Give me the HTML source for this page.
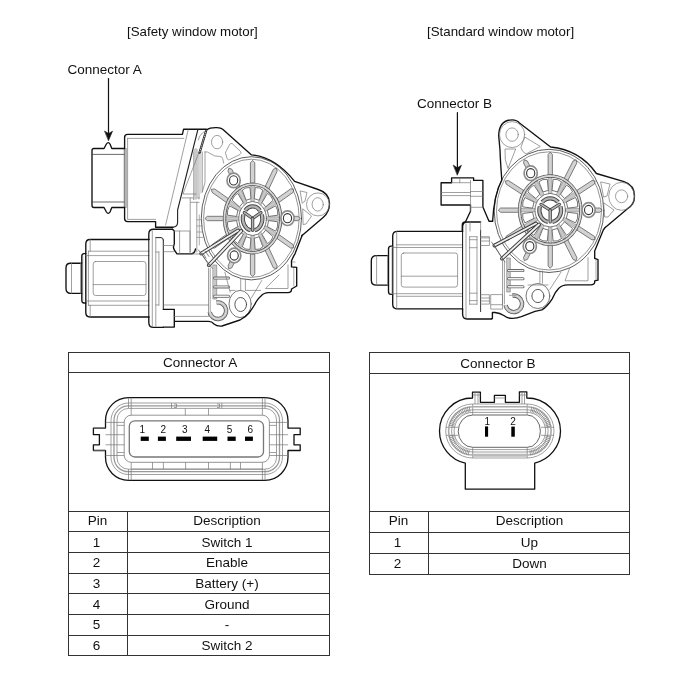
<!DOCTYPE html>
<html><head><meta charset="utf-8">
<style>
html,body{margin:0;padding:0;background:#fff;}
body{width:700px;height:682px;position:relative;overflow:hidden;filter:grayscale(1);font-family:"Liberation Sans",sans-serif;color:#111;}
.t{position:absolute;font-size:13.3px;line-height:1;white-space:nowrap;}
.c{position:absolute;font-size:13.5px;line-height:1;white-space:nowrap;text-align:center;}
.h{position:absolute;background:#333;height:1px;}
.v{position:absolute;background:#333;width:1px;}
svg{position:absolute;left:0;top:0;}
</style></head><body>
<div class="t" style="left:127px;top:25.4px">[Safety window motor]</div>
<div class="t" style="left:427px;top:25.4px">[Standard window motor]</div>
<div class="t" style="left:67.5px;top:62.7px;font-size:13.5px">Connector A</div>
<div class="t" style="left:417px;top:97.3px;font-size:13.5px">Connector B</div>

<!-- Table A -->
<div class="h" style="left:68px;top:352px;width:262px"></div>
<div class="h" style="left:68px;top:372px;width:262px"></div>
<div class="h" style="left:68px;top:511px;width:262px"></div>
<div class="h" style="left:68px;top:531px;width:262px"></div>
<div class="h" style="left:68px;top:552px;width:262px"></div>
<div class="h" style="left:68px;top:573px;width:262px"></div>
<div class="h" style="left:68px;top:593px;width:262px"></div>
<div class="h" style="left:68px;top:614px;width:262px"></div>
<div class="h" style="left:68px;top:635px;width:262px"></div>
<div class="h" style="left:68px;top:655px;width:262px"></div>
<div class="v" style="left:68px;top:352px;height:304px"></div>
<div class="v" style="left:329px;top:352px;height:304px"></div>
<div class="v" style="left:127px;top:511px;height:145px"></div>

<div class="c" style="left:69.2px;width:262px;top:356.4px">Connector A</div>
<div class="c" style="left:68px;width:59px;top:514.2px">Pin</div>
<div class="c" style="left:127px;width:200px;top:514.2px">Description</div>
<div class="c" style="left:67px;width:59px;top:535.6px">1</div>
<div class="c" style="left:127px;width:200px;top:535.6px">Switch 1</div>
<div class="c" style="left:67px;width:59px;top:556.4px">2</div>
<div class="c" style="left:127px;width:200px;top:556.4px">Enable</div>
<div class="c" style="left:67px;width:59px;top:576.9px">3</div>
<div class="c" style="left:127px;width:200px;top:576.9px">Battery (+)</div>
<div class="c" style="left:67px;width:59px;top:597.8px">4</div>
<div class="c" style="left:127px;width:200px;top:597.8px">Ground</div>
<div class="c" style="left:67px;width:59px;top:618.3px">5</div>
<div class="c" style="left:127px;width:200px;top:618.3px">-</div>
<div class="c" style="left:67px;width:59px;top:639.1px">6</div>
<div class="c" style="left:127px;width:200px;top:639.1px">Switch 2</div>

<!-- Table B -->
<div class="h" style="left:369px;top:352px;width:261px"></div>
<div class="h" style="left:369px;top:373px;width:261px"></div>
<div class="h" style="left:369px;top:511px;width:261px"></div>
<div class="h" style="left:369px;top:532px;width:261px"></div>
<div class="h" style="left:369px;top:553px;width:261px"></div>
<div class="h" style="left:369px;top:574px;width:261px"></div>
<div class="v" style="left:369px;top:352px;height:223px"></div>
<div class="v" style="left:629px;top:352px;height:223px"></div>
<div class="v" style="left:428px;top:511px;height:64px"></div>

<div class="c" style="left:367.4px;width:261px;top:356.5px">Connector B</div>
<div class="c" style="left:369px;width:59px;top:514.1px">Pin</div>
<div class="c" style="left:429px;width:201px;top:514.1px">Description</div>
<div class="c" style="left:368px;width:59px;top:536px">1</div>
<div class="c" style="left:429px;width:201px;top:536px">Up</div>
<div class="c" style="left:368px;width:59px;top:556.5px">2</div>
<div class="c" style="left:429px;width:201px;top:556.5px">Down</div>

<!--SVG-->
<svg width="700" height="682" viewBox="0 0 700 682" fill="none" stroke-linejoin="round">
<!-- Connector A -->
<g id="connA">
  <path d="M128.5 397.6 H265 A23 23 0 0 1 288 420.6 V428.1 H300.2 V434.7 H294 V444.8 H300.2 V450.5 H288 V457 A23 23 0 0 1 265 480.3 H128.5 A23 23 0 0 1 105.5 457 V450.5 H93.4 V444.8 H99.4 V434.7 H93.4 V428.1 H105.5 V420.6 A23 23 0 0 1 128.5 397.6 Z" stroke="#111" stroke-width="1.3"/>
  <rect x="111" y="403" width="171.5" height="71.5" rx="17.5" stroke="#777" stroke-width="0.7"/>
  <rect x="114" y="405.9" width="165.5" height="65.8" rx="14.5" stroke="#999" stroke-width="1.3"/>
  <rect x="117" y="408.4" width="159.5" height="60.8" rx="11.5" stroke="#777" stroke-width="0.7"/>
  <path d="M124.2 422 A7 7 0 0 1 131.2 415.2 H262.4 A7 7 0 0 1 269.4 422 V455.5 A7 7 0 0 1 262.4 462.3 H131.2 A7 7 0 0 1 124.2 455.5 Z" stroke="#666" stroke-width="0.7"/>
  <rect x="129.3" y="420.8" width="134.2" height="36.2" rx="5.5" stroke="#777" stroke-width="1.3"/>
  <g stroke="#777" stroke-width="0.7">
    <path d="M128.5 397.6 V408.4 M131.2 397.6 V415.2 M265 397.6 V408.4 M262.4 397.6 V415.2"/>
    <path d="M128.5 480.3 V469.2 M131.2 480.3 V462.3 M265 480.3 V469.2 M262.4 480.3 V462.3"/>
    <path d="M185.3 408.4 V415.2 M208.5 408.4 V415.2"/>
    <path d="M131.4 469.1 H262.9 M152.5 462.3 V469.1 M163.4 462.3 V469.1 M185.6 462.3 V469.1 M208.5 462.3 V469.1 M230.4 462.3 V469.1 M240.5 462.3 V469.1"/>
    <path d="M105.5 422.4 H124.2 M117 425.4 H124.2 M105.5 434.7 H124.2 M105.5 444.8 H124.2 M117 452.5 H124.2 M105.5 455.5 H124.2"/>
    <path d="M288 422.4 H269.4 M276.5 425.4 H269.4 M288 434.7 H269.4 M288 444.8 H269.4 M276.5 452.5 H269.4 M288 455.5 H269.4"/>
    <path d="M93.4 428.1 H105.5 M93.4 450.5 H105.5"/>
    <path d="M171.5 403 V408.4 M221.8 403 V408.4"/>
    <path d="M174 404 h2.5 v3.5 h-2.5 M217 404 h2.5 v3.5 h-2.5"/>
  </g>
  <g fill="#000" stroke="none">
    <rect x="140.7" y="436.6" width="8.1" height="4.3"/>
    <rect x="157.9" y="436.6" width="8" height="4.3"/>
    <rect x="176.2" y="436.6" width="14.8" height="4.3"/>
    <rect x="202.7" y="436.6" width="14.5" height="4.3"/>
    <rect x="227.5" y="436.6" width="8.2" height="4.3"/>
    <rect x="245" y="436.6" width="7.9" height="4.3"/>
  </g>
  <g fill="#111" stroke="none" font-family="Liberation Sans" font-size="10">
    <text x="139.4" y="433">1</text>
    <text x="160.6" y="433">2</text>
    <text x="181.9" y="433">3</text>
    <text x="204.5" y="433">4</text>
    <text x="226.8" y="433">5</text>
    <text x="247.6" y="433">6</text>
  </g>
</g>
<!-- Connector B -->
<g id="connB">
  <path d="M465.3 489.2 V463.2 A33 33 0 0 1 439.5 431 A33 33 0 0 1 472.5 398 V392.2 H480.4 V402.3 H494.4 V395.4 H505.4 V402.3 H519.4 V391.8 H526.8 V398 A33.7 33 0 0 1 560.5 431 A33.7 33 0 0 1 534.7 463.1 V489.2 Z" stroke="#111" stroke-width="1.3"/>
  <g stroke="#777" stroke-width="0.7">
    <path d="M472.7 404 H527 A27 27 0 0 1 527 458 H472.7 A27 27 0 0 1 472.7 404 Z"/>
    <path d="M472.7 409.8 H527 A21 21 0 0 1 527 452 H472.7 A21 21 0 0 1 472.7 409.8 Z"/>
    <path d="M472.7 412.4 H527 A18.5 18.5 0 0 1 527 449.6 H472.7 A18.5 18.5 0 0 1 472.7 412.4 Z"/>
    <path d="M472.7 415 H527.4 A13 16.15 0 0 1 527.4 447.3 H472.7 A14.5 16.15 0 0 1 472.7 415 Z" stroke="#555" stroke-width="0.9"/>
    <path d="M472.7 404 V415 M527.2 404 V415 M472.7 447.3 V458 M527.2 447.3 V458"/>
    <path d="M446 427.3 H458 M446 435.3 H458 M541 427.3 H554 M541 435.3 H554"/>
    <path d="M472.5 395 H480.4 M519.4 395 H526.8 M494.4 398 H505.4"/>
    <path d="M475 392.2 V404 M478 392.2 V404 M522 391.8 V404 M524.5 391.8 V404"/>
  </g>
  <path d="M472.7 406.8 H527 A24 24 0 0 1 527 455 H472.7 A24 24 0 0 1 472.7 406.8 Z" stroke="#aaa" stroke-width="1.6"/>
  <path d="M472.7 455.2 H527" stroke="#bbb" stroke-width="3"/>
  <path d="M470.0 412.1 L469.3 406.8 M468.5 412.4 L467.4 407.1 M467.1 412.8 L465.5 407.6 M465.7 413.3 L463.7 408.3 M464.3 413.9 L461.9 409.0 M463.0 414.6 L460.2 410.0 M461.7 415.4 L458.6 411.0 M460.5 416.3 L457.1 412.2 M459.4 417.3 L455.6 413.5 M458.3 418.4 L454.3 414.8 M457.4 419.6 L453.1 416.3 M456.5 420.8 L452.0 417.9 M455.7 422.1 L451.0 419.6 M455.1 423.5 L450.1 421.3 M454.5 424.9 L449.4 423.1 M454.1 426.3 L448.9 425.0 M453.9 435.1 L448.6 436.3 M454.3 436.6 L449.1 438.1 M454.8 438.0 L449.7 440.0 M455.4 439.4 L450.5 441.7 M456.1 440.8 L451.4 443.4 M456.9 442.0 L452.4 445.1 M457.8 443.2 L453.6 446.6 M458.8 444.4 L454.9 448.1 M459.9 445.4 L456.2 449.4 M461.0 446.4 L457.7 450.7 M462.2 447.3 L459.3 451.8 M463.5 448.0 L461.0 452.8 M464.9 448.7 L462.7 453.6 M466.3 449.2 L464.5 454.3 M467.7 449.7 L466.3 454.9 M469.2 450.0 L468.2 455.3 M529.9 450.2 L530.6 455.5 M531.4 449.9 L532.5 455.2 M532.8 449.5 L534.4 454.7 M534.2 449.0 L536.2 454.0 M535.6 448.4 L538.0 453.3 M536.9 447.7 L539.7 452.3 M538.2 446.9 L541.3 451.3 M539.4 446.0 L542.8 450.1 M540.5 445.0 L544.3 448.8 M541.6 443.9 L545.6 447.5 M542.5 442.7 L546.8 446.0 M543.4 441.5 L547.9 444.4 M544.2 440.2 L548.9 442.7 M544.8 438.8 L549.8 441.0 M545.4 437.4 L550.5 439.2 M545.8 436.0 L551.0 437.3 M546.0 427.2 L551.3 426.0 M545.6 425.7 L550.8 424.2 M545.1 424.3 L550.2 422.3 M544.5 422.9 L549.4 420.6 M543.8 421.5 L548.5 418.8 M543.0 420.3 L547.5 417.2 M542.1 419.1 L546.3 415.7 M541.1 417.9 L545.0 414.2 M540.0 416.9 L543.7 412.9 M538.9 415.9 L542.2 411.6 M537.7 415.0 L540.6 410.5 M536.4 414.3 L538.9 409.5 M535.0 413.6 L537.2 408.7 M533.6 413.1 L535.4 408.0 M532.2 412.6 L533.6 407.4 M530.7 412.3 L531.7 407.0" stroke="#777" stroke-width="0.7"/>
  <g fill="#000" stroke="none">
    <rect x="485" y="426.4" width="3.1" height="10.3"/>
    <rect x="511.3" y="426.6" width="3.5" height="10.1"/>
  </g>
  <g fill="#111" stroke="none" font-family="Liberation Sans" font-size="10">
    <text x="484.4" y="425.4">1</text>
    <text x="510.2" y="425.4">2</text>
  </g>
</g>
</svg>

<svg width="700" height="682" viewBox="0 0 700 682" fill="none">
<g id="motorA" fill="none" stroke-linejoin="round" stroke-linecap="round">
<path d="M108.5 78.5 V134" stroke="#111" stroke-width="1.2"/>
<path d="M104.8 131.2 L108.6 133.5 L112.5 131.2 L108.6 140.4 Z" fill="#111" stroke="#111" stroke-width="0.6"/>
<ellipse cx="251.4" cy="218.3" rx="47.8" ry="59.1" stroke="#666" stroke-width="0.7"/>
<ellipse cx="251.4" cy="218.3" rx="50.1" ry="61.6" stroke="#333" stroke-width="0.8"/>
<path d="M254.8 184.6 L254.8 162.8 L252.6 160.4 L250.4 162.8 L250.4 184.6 Z" fill="#d2d2d2" stroke="#555" stroke-width="0.75"/>
<path d="M268.3 190.1 L277.2 171.1 L276.3 168.1 L273.3 169.3 L264.4 188.2 Z" fill="#d2d2d2" stroke="#555" stroke-width="0.75"/>
<path d="M277.7 203.3 L293.1 192.4 L293.8 189.3 L290.6 188.9 L275.2 199.8 Z" fill="#d2d2d2" stroke="#555" stroke-width="0.75"/>
<path d="M280.2 220.7 L297.9 220.7 L300.3 218.5 L297.9 216.3 L280.2 216.3 Z" fill="#d2d2d2" stroke="#555" stroke-width="0.75"/>
<path d="M275.2 237.2 L290.6 248.1 L293.8 247.7 L293.1 244.6 L277.7 233.7 Z" fill="#d2d2d2" stroke="#555" stroke-width="0.75"/>
<path d="M264.4 248.8 L273.3 267.7 L276.3 268.9 L277.2 265.9 L268.3 246.9 Z" fill="#d2d2d2" stroke="#555" stroke-width="0.75"/>
<path d="M250.4 252.4 L250.4 274.2 L252.6 276.6 L254.8 274.2 L254.8 252.4 Z" fill="#d2d2d2" stroke="#555" stroke-width="0.75"/>
<path d="M236.9 246.9 L228.0 265.9 L228.9 268.9 L231.9 267.7 L240.8 248.8 Z" fill="#d2d2d2" stroke="#555" stroke-width="0.75"/>
<path d="M227.5 233.7 L212.1 244.6 L211.4 247.7 L214.6 248.1 L230.0 237.2 Z" fill="#d2d2d2" stroke="#555" stroke-width="0.75"/>
<path d="M225.0 216.3 L207.3 216.3 L204.9 218.5 L207.3 220.7 L225.0 220.7 Z" fill="#d2d2d2" stroke="#555" stroke-width="0.75"/>
<path d="M230.0 199.8 L214.6 188.9 L211.4 189.3 L212.1 192.4 L227.5 203.3 Z" fill="#d2d2d2" stroke="#555" stroke-width="0.75"/>
<path d="M240.8 188.2 L231.9 169.3 L228.9 168.1 L228.0 171.1 L236.9 190.1 Z" fill="#d2d2d2" stroke="#555" stroke-width="0.75"/>
<path d="M254.3 203.7 L254.3 183.4 L250.9 183.4 L250.9 203.7 Z" fill="#c8c8c8" stroke="#8a8a8a" stroke-width="0.6"/>
<path d="M260.2 206.4 L268.4 188.8 L265.3 187.4 L257.1 205.0 Z" fill="#c8c8c8" stroke="#8a8a8a" stroke-width="0.6"/>
<path d="M264.0 212.5 L278.3 202.3 L276.3 199.6 L262.0 209.7 Z" fill="#c8c8c8" stroke="#8a8a8a" stroke-width="0.6"/>
<path d="M264.6 220.2 L281.2 220.2 L281.2 216.8 L264.6 216.8 Z" fill="#c8c8c8" stroke="#8a8a8a" stroke-width="0.6"/>
<path d="M262.0 227.3 L276.3 237.4 L278.3 234.7 L264.0 224.5 Z" fill="#c8c8c8" stroke="#8a8a8a" stroke-width="0.6"/>
<path d="M257.1 232.0 L265.3 249.6 L268.4 248.2 L260.2 230.6 Z" fill="#c8c8c8" stroke="#8a8a8a" stroke-width="0.6"/>
<path d="M250.9 233.3 L250.9 253.6 L254.3 253.6 L254.3 233.3 Z" fill="#c8c8c8" stroke="#8a8a8a" stroke-width="0.6"/>
<path d="M245.0 230.6 L236.8 248.2 L239.9 249.6 L248.1 232.0 Z" fill="#c8c8c8" stroke="#8a8a8a" stroke-width="0.6"/>
<path d="M241.2 224.5 L226.9 234.7 L228.9 237.4 L243.2 227.3 Z" fill="#c8c8c8" stroke="#8a8a8a" stroke-width="0.6"/>
<path d="M240.6 216.8 L224.0 216.8 L224.0 220.2 L240.6 220.2 Z" fill="#c8c8c8" stroke="#8a8a8a" stroke-width="0.6"/>
<path d="M243.2 209.7 L228.9 199.6 L226.9 202.3 L241.2 212.5 Z" fill="#c8c8c8" stroke="#8a8a8a" stroke-width="0.6"/>
<path d="M248.1 205.0 L239.9 187.4 L236.8 188.8 L245.0 206.4 Z" fill="#c8c8c8" stroke="#8a8a8a" stroke-width="0.6"/>
<path d="M254.3 198.3 L255.2 187.6 L259.3 187.9 L262.9 190.1 L259.3 199.9 Z" fill="#fff" stroke="#5a5a5a" stroke-width="0.85" stroke-linejoin="round"/>
<path d="M262.3 202.1 L267.5 193.3 L270.8 196.1 L273.1 200.2 L266.0 206.6 Z" fill="#fff" stroke="#5a5a5a" stroke-width="0.85" stroke-linejoin="round"/>
<path d="M267.7 210.2 L275.7 205.8 L277.5 210.3 L277.8 215.2 L269.0 216.4 Z" fill="#fff" stroke="#5a5a5a" stroke-width="0.85" stroke-linejoin="round"/>
<path d="M269.0 220.6 L277.8 221.8 L277.5 226.7 L275.7 231.2 L267.7 226.8 Z" fill="#fff" stroke="#5a5a5a" stroke-width="0.85" stroke-linejoin="round"/>
<path d="M266.0 230.4 L273.1 236.8 L270.8 240.9 L267.5 243.7 L262.3 234.9 Z" fill="#fff" stroke="#5a5a5a" stroke-width="0.85" stroke-linejoin="round"/>
<path d="M259.3 237.1 L262.9 246.9 L259.3 249.1 L255.2 249.4 L254.3 238.7 Z" fill="#fff" stroke="#5a5a5a" stroke-width="0.85" stroke-linejoin="round"/>
<path d="M250.9 238.7 L250.0 249.4 L245.9 249.1 L242.3 246.9 L245.9 237.1 Z" fill="#fff" stroke="#5a5a5a" stroke-width="0.85" stroke-linejoin="round"/>
<path d="M242.9 234.9 L237.7 243.7 L234.4 240.9 L232.1 236.8 L239.2 230.4 Z" fill="#fff" stroke="#5a5a5a" stroke-width="0.85" stroke-linejoin="round"/>
<path d="M237.5 226.8 L229.5 231.2 L227.7 226.7 L227.4 221.8 L236.2 220.6 Z" fill="#fff" stroke="#5a5a5a" stroke-width="0.85" stroke-linejoin="round"/>
<path d="M236.2 216.4 L227.4 215.2 L227.7 210.3 L229.5 205.8 L237.5 210.2 Z" fill="#fff" stroke="#5a5a5a" stroke-width="0.85" stroke-linejoin="round"/>
<path d="M239.2 206.6 L232.1 200.2 L234.4 196.1 L237.7 193.3 L242.9 202.1 Z" fill="#fff" stroke="#5a5a5a" stroke-width="0.85" stroke-linejoin="round"/>
<path d="M245.9 199.9 L242.3 190.1 L245.9 187.9 L250.0 187.6 L250.9 198.3 Z" fill="#fff" stroke="#5a5a5a" stroke-width="0.85" stroke-linejoin="round"/>
<ellipse cx="252.6" cy="218.5" rx="28.1" ry="34.2" stroke="#555" stroke-width="3.4"/>
<ellipse cx="252.6" cy="218.5" rx="28.1" ry="34.2" stroke="#d8d8d8" stroke-width="1.8" stroke-dasharray="1.6 0.9"/>
<ellipse cx="252.6" cy="218.5" rx="13.8" ry="17.0" fill="#fff" stroke="#555" stroke-width="0.8"/>
<path d="M245.3 210.4 A9.8 12.1 0 0 1 259.9 210.4" stroke="#444" stroke-width="4.2" stroke-linecap="butt"/>
<path d="M245.3 210.4 A9.8 12.1 0 0 1 259.9 210.4" stroke="#b4b4b4" stroke-width="2.3" stroke-linecap="butt"/>
<path d="M261.9 214.8 A9.8 12.1 0 0 1 254.6 230.3" stroke="#444" stroke-width="4.2" stroke-linecap="butt"/>
<path d="M261.9 214.8 A9.8 12.1 0 0 1 254.6 230.3" stroke="#b4b4b4" stroke-width="2.3" stroke-linecap="butt"/>
<path d="M250.6 230.3 A9.8 12.1 0 0 1 243.3 214.8" stroke="#444" stroke-width="4.2" stroke-linecap="butt"/>
<path d="M250.6 230.3 A9.8 12.1 0 0 1 243.3 214.8" stroke="#b4b4b4" stroke-width="2.3" stroke-linecap="butt"/>
<path d="M252.6 218.5 L244.3 212.6" stroke="#444" stroke-width="3.3"/>
<path d="M252.6 218.5 L244.3 212.6" stroke="#b4b4b4" stroke-width="1.6"/>
<path d="M252.6 218.5 L260.9 212.6" stroke="#444" stroke-width="3.3"/>
<path d="M252.6 218.5 L260.9 212.6" stroke="#b4b4b4" stroke-width="1.6"/>
<path d="M252.6 218.5 L252.6 230.3" stroke="#444" stroke-width="3.3"/>
<path d="M252.6 218.5 L252.6 230.3" stroke="#b4b4b4" stroke-width="1.6"/>
<ellipse cx="233.6" cy="180.4" rx="6.6" ry="7.3" fill="#fff" stroke="#8c8c8c" stroke-width="1.7"/>
<ellipse cx="233.6" cy="180.4" rx="4.1" ry="4.6" fill="#fff" stroke="#333" stroke-width="1.1"/>
<ellipse cx="287.5" cy="218.2" rx="6.6" ry="7.3" fill="#fff" stroke="#8c8c8c" stroke-width="1.7"/>
<ellipse cx="287.5" cy="218.2" rx="4.1" ry="4.6" fill="#fff" stroke="#333" stroke-width="1.1"/>
<ellipse cx="234.2" cy="255.5" rx="6.6" ry="7.3" fill="#fff" stroke="#8c8c8c" stroke-width="1.7"/>
<ellipse cx="234.2" cy="255.5" rx="4.1" ry="4.6" fill="#fff" stroke="#333" stroke-width="1.1"/>
<path d="M201.2 253.5 L238 230.5 M208.8 265.2 L241.2 231" stroke="#3a3a3a" stroke-width="3.8"/>
<path d="M201.2 253.5 L238 230.5 M208.8 265.2 L241.2 231" stroke="#eeeeee" stroke-width="1.9"/>
<path d="M198.5 250 L212.5 268.5 M200.3 252 L210 266.9 M203 253.5 L206 258 M205.5 251.5 L209 256.5" stroke="#555" stroke-width="0.7"/>
<path d="M208.5 268.5 V315.3 M210.2 268.5 V312" stroke="#777" stroke-width="0.7"/>
<path d="M213.2 265 H216.7 V299 H213.2 Z" fill="#c8c8c8" stroke="#777" stroke-width="0.6"/>
<path d="M214.5 278.1 H228.5 M214.5 286.9 H228.5 M214.5 296.3 H228.5" stroke="#666" stroke-width="3"/>
<path d="M214.5 278.1 H228.5 M214.5 286.9 H228.5 M214.5 296.3 H228.5" stroke="#eee" stroke-width="1.4"/>
<path d="M216.5 302.5 A8.3 8.3 0 1 1 209.7 312.1" stroke="#555" stroke-width="4.4" stroke-linecap="butt"/>
<path d="M216.5 302.5 A8.3 8.3 0 1 1 209.7 312.1" stroke="#c4c4c4" stroke-width="2.8" stroke-linecap="butt"/>
<path d="M216.5 302.5 A8.3 8.3 0 1 1 209.7 312.1" stroke="#f4f4f4" stroke-width="0.5"/>
<ellipse cx="240.1" cy="304" rx="11.1" ry="13.6" fill="#fff" stroke="#555" stroke-width="0.8"/>
<ellipse cx="240.7" cy="304.5" rx="5.85" ry="7" stroke="#444" stroke-width="0.9"/>
<path d="M240.7 279.3 V290 M245.4 279.3 V290.5 M230 290.4 H235 M246 290.4 H260.6 M261.8 280.5 L251.3 298 M279 275 L265.4 288.5 H288 V264.9 M224.9 272.3 L230.2 292.2" stroke="#777" stroke-width="0.7"/>
<path d="M292 262 L295 262 M293.8 267.4 V286" stroke="#888" stroke-width="0.7"/>
<path d="M81.8 263.2 H70.5 Q66 263.2 66 268 V288.6 Q66 293.4 70.5 293.4 H81.8" stroke="#111" stroke-width="1.35"/>
<path d="M85.8 253.6 H84 Q81.8 253.6 81.8 256.5 V300 Q81.8 303 84 303 H85.8" stroke="#111" stroke-width="1.35"/>
<path d="M149 239.5 H90 Q85.8 239.5 85.8 244 V312.5 Q85.8 317 90 317 H149" stroke="#111" stroke-width="1.35"/>
<path d="M71.5 263.2 V293.4 M80.5 263.2 V293.4 M82.7 256 V301 M88.4 251.2 V305.3 M90.2 239.5 V251.2 M90.2 305.3 V317 M88.4 251.2 H149 M85.8 255.6 H149 M85.8 301 H149 M88.4 305.3 H149" stroke="#777" stroke-width="0.7"/>
<rect x="93.2" y="261.5" width="52.8" height="34" rx="2.5" stroke="#777" stroke-width="0.7"/>
<path d="M93.2 284.6 H146" stroke="#777" stroke-width="0.7"/>
<path d="M148.8 239.5 V234 Q148.8 229.2 153.5 229.2 H172.5 M148.8 317 V322.5 Q148.8 327.4 153.5 327.4 H163.3" stroke="#111" stroke-width="1.35"/>
<path d="M148.8 239.5 V317" stroke="#111" stroke-width="1"/>
<path d="M163.3 240 Q163.3 237.6 161 237.6 H155.8 M163.3 240 V309.3" stroke="#222" stroke-width="1"/>
<path d="M152.3 231 V326 M155.8 237.6 V326 M158.9 252 V305 M155.8 252 H158.9 M155.8 305 H158.9" stroke="#777" stroke-width="0.7"/>
<path d="M172.5 229.2 L174.3 231 V244 Q172.6 247 174.3 250 L177 253.9 H191 Q194.5 253.9 195.5 249" stroke="#111" stroke-width="1.35"/>
<path d="M163.3 245.5 H174 M163.3 251.7 H174 M179.6 231 V253.9 M174.3 231 H190 V253.9" stroke="#777" stroke-width="0.7"/>
<path d="M163.3 309.3 H174.3 V327.1 H163.3 M174.3 321.4 H208.6 Q212 321.4 214 324 Q217 326.5 222 326 L240 320 Q245.7 317.1 249 313 Q254.3 306 256 302 Q258 298.5 261 296 Q264 292.6 268.5 292.6 H288 Q291.5 292.6 291.5 289.5 V289 L296.7 286 V267.4 L291.5 266.9 V260.8 Q293 257 295.1 253.6 L302.3 235.1" stroke="#111" stroke-width="1.35"/>
<path d="M163.9 305 H208.5 M174.3 316.4 H208.5 M191 254 H204" stroke="#777" stroke-width="0.7"/>
<path d="M124.5 148.5 H111.8 L110 144 Q108.2 141.2 106.4 144 L104 148.5 H94 Q92 148.5 92 150.5 V205.5 Q92 207.5 94 207.5 H104 L106.4 212 Q108.2 214.8 110 212 L111.8 207.5 H124.5" stroke="#111" stroke-width="1.35"/>
<path d="M92 154.4 H124 M92 202 H124 M124.3 148.5 V207.5 M126 148.5 V207.5" stroke="#444" stroke-width="0.8"/>
<path d="M206.5 129.2 H183.6 L182.4 134.4 H127.6 Q124.6 134.4 124.6 137.4 V148.5 M124.6 207.5 V218.6 Q124.6 221.6 127.6 221.6 H155.6 V227.2 H173" stroke="#111" stroke-width="1.35"/>
<path d="M127.6 138.4 H183.8 M127.6 138.4 V219.4 H155.6 M188.2 129.8 L165.6 225 M182 197.9 H199 M190.8 202.3 H199 M198.4 140 Q199.5 133 206.3 131 M199 152 V199 M202.3 152 V192 M205 152 V182.5 L202.3 192 M190.2 198 V252 M196.8 202.3 V252 M193.5 152 V199.6" stroke="#777" stroke-width="0.7"/>
<path d="M195.7 197.5 V150.5" stroke="#c8c8c8" stroke-width="4.4"/>
<path d="M200.6 192 V152" stroke="#d8d8d8" stroke-width="3"/>
<path d="M199.6 150.8 L182.9 194 H196" stroke="#777" stroke-width="0.7"/>
<path d="M197 219.8 H202 M197 226 H202.3 M197 232 H202.8 M197 237.4 H203.5 M199.3 215 V245" stroke="#888" stroke-width="0.7"/>
<path d="M197.9 129.5 L177.6 210 V222.5 Q177.4 227 173 227.2" stroke="#222" stroke-width="1.1"/>
<path d="M206.3 130.2 L199.6 152.6" stroke="#111" stroke-width="2.2"/>
<path d="M206.3 130.2 L199.6 152.6" stroke="#fff" stroke-width="0.8" stroke-dasharray="0.7 1.3"/>
<path d="M206.8 129.8 Q210 127.4 217.1 127.7 Q221 127.8 222.7 129.2 L251.5 154.9 Q275 157 294.6 181.3 L318.2 189.5 Q329.5 193 329.5 203.5 Q329.5 212 323.4 217.2 L301.8 235.7" stroke="#111" stroke-width="1.35"/>
<ellipse cx="217.1" cy="142.1" rx="5.6" ry="6.7" stroke="#777" stroke-width="0.7"/>
<path d="M229.9 144.1 Q231 142.8 232.5 143.8 L240.5 151.5 Q242 153.5 240 154.5 L229.5 159.6 Q228 160.3 227.2 158.8 L225.6 153.5 Q225.3 152 226.3 150.8 Z" stroke="#777" stroke-width="0.7"/>
<path d="M204.8 151.8 Q208 151.5 210 153.5 Q215 157 219.6 156.4 Q222 156.4 222.6 158.5 L223.7 163.1" stroke="#777" stroke-width="0.7"/>
<ellipse cx="318" cy="204.4" rx="11.5" ry="11.5" stroke="#777" stroke-width="0.7"/>
<ellipse cx="317.7" cy="204.4" rx="5.6" ry="6.7" stroke="#777" stroke-width="0.7"/>
<path d="M300.5 191 L307 192.5 L305 201 L302.5 203 Z M303 209 L311.5 216 L306 224 L303.5 224.5 Z" stroke="#777" stroke-width="0.7"/>
</g>
</svg>
<svg width="700" height="682" viewBox="0 0 700 682" fill="none">
<g id="motorB" fill="none" stroke-linejoin="round" stroke-linecap="round">
<path d="M457.4 112.7 V168" stroke="#111" stroke-width="1.2"/>
<path d="M453.5 165.3 L457.4 167.8 L461.4 165.3 L457.4 174.9 Z" fill="#111" stroke="#111" stroke-width="0.6"/>
<ellipse cx="549.0" cy="210.9" rx="52.5" ry="59.1" stroke="#666" stroke-width="0.7"/>
<ellipse cx="549.0" cy="210.9" rx="54.8" ry="61.6" stroke="#333" stroke-width="0.8"/>
<path d="M552.4 176.3 L552.4 154.5 L550.2 152.1 L548.1 154.5 L548.1 176.3 Z" fill="#d2d2d2" stroke="#555" stroke-width="0.75"/>
<path d="M567.2 181.8 L576.9 162.9 L576.1 159.8 L573.1 160.9 L563.4 179.9 Z" fill="#d2d2d2" stroke="#555" stroke-width="0.75"/>
<path d="M577.5 195.1 L594.3 184.1 L595.1 181.0 L592.0 180.5 L575.1 191.5 Z" fill="#d2d2d2" stroke="#555" stroke-width="0.75"/>
<path d="M580.3 212.3 L599.8 212.3 L602.2 210.2 L599.8 208.0 L580.3 208.0 Z" fill="#d2d2d2" stroke="#555" stroke-width="0.75"/>
<path d="M575.1 228.9 L592.0 239.9 L595.1 239.4 L594.3 236.3 L577.5 225.3 Z" fill="#d2d2d2" stroke="#555" stroke-width="0.75"/>
<path d="M563.4 240.5 L573.1 259.5 L576.1 260.6 L576.9 257.5 L567.2 238.6 Z" fill="#d2d2d2" stroke="#555" stroke-width="0.75"/>
<path d="M548.1 244.1 L548.1 265.9 L550.2 268.3 L552.4 265.9 L552.4 244.1 Z" fill="#d2d2d2" stroke="#555" stroke-width="0.75"/>
<path d="M533.2 238.6 L523.5 257.5 L524.3 260.6 L527.3 259.5 L537.0 240.5 Z" fill="#d2d2d2" stroke="#555" stroke-width="0.75"/>
<path d="M522.9 225.3 L506.1 236.3 L505.3 239.4 L508.4 239.9 L525.3 228.9 Z" fill="#d2d2d2" stroke="#555" stroke-width="0.75"/>
<path d="M520.1 208.0 L500.6 208.0 L498.2 210.2 L500.6 212.3 L520.1 212.3 Z" fill="#d2d2d2" stroke="#555" stroke-width="0.75"/>
<path d="M525.3 191.5 L508.4 180.5 L505.3 181.0 L506.1 184.1 L522.9 195.1 Z" fill="#d2d2d2" stroke="#555" stroke-width="0.75"/>
<path d="M537.0 179.9 L527.3 160.9 L524.3 159.8 L523.5 162.9 L533.2 181.8 Z" fill="#d2d2d2" stroke="#555" stroke-width="0.75"/>
<path d="M551.9 195.4 L551.9 175.1 L548.5 175.1 L548.5 195.4 Z" fill="#c8c8c8" stroke="#8a8a8a" stroke-width="0.6"/>
<path d="M558.3 198.2 L567.3 180.6 L564.3 179.0 L555.3 196.6 Z" fill="#c8c8c8" stroke="#8a8a8a" stroke-width="0.6"/>
<path d="M562.5 204.2 L578.2 194.1 L576.3 191.2 L560.7 201.4 Z" fill="#c8c8c8" stroke="#8a8a8a" stroke-width="0.6"/>
<path d="M563.4 211.9 L581.4 211.9 L581.4 208.5 L563.4 208.5 Z" fill="#c8c8c8" stroke="#8a8a8a" stroke-width="0.6"/>
<path d="M560.7 219.0 L576.3 229.2 L578.2 226.3 L562.5 216.2 Z" fill="#c8c8c8" stroke="#8a8a8a" stroke-width="0.6"/>
<path d="M555.3 223.8 L564.3 241.4 L567.3 239.8 L558.3 222.2 Z" fill="#c8c8c8" stroke="#8a8a8a" stroke-width="0.6"/>
<path d="M548.5 225.0 L548.5 245.3 L551.9 245.3 L551.9 225.0 Z" fill="#c8c8c8" stroke="#8a8a8a" stroke-width="0.6"/>
<path d="M542.1 222.2 L533.1 239.8 L536.1 241.4 L545.1 223.8 Z" fill="#c8c8c8" stroke="#8a8a8a" stroke-width="0.6"/>
<path d="M537.9 216.2 L522.2 226.3 L524.1 229.2 L539.7 219.0 Z" fill="#c8c8c8" stroke="#8a8a8a" stroke-width="0.6"/>
<path d="M537.0 208.5 L519.0 208.5 L519.0 211.9 L537.0 211.9 Z" fill="#c8c8c8" stroke="#8a8a8a" stroke-width="0.6"/>
<path d="M539.7 201.4 L524.1 191.2 L522.2 194.1 L537.9 204.2 Z" fill="#c8c8c8" stroke="#8a8a8a" stroke-width="0.6"/>
<path d="M545.1 196.6 L536.1 179.0 L533.1 180.6 L542.1 198.2 Z" fill="#c8c8c8" stroke="#8a8a8a" stroke-width="0.6"/>
<path d="M552.1 190.0 L553.1 179.3 L557.5 179.6 L561.5 181.8 L557.6 191.6 Z" fill="#fff" stroke="#5a5a5a" stroke-width="0.85" stroke-linejoin="round"/>
<path d="M560.8 193.8 L566.5 185.0 L570.2 187.8 L572.6 191.9 L564.8 198.3 Z" fill="#fff" stroke="#5a5a5a" stroke-width="0.85" stroke-linejoin="round"/>
<path d="M566.7 201.9 L575.5 197.5 L577.5 202.0 L577.7 206.9 L568.2 208.1 Z" fill="#fff" stroke="#5a5a5a" stroke-width="0.85" stroke-linejoin="round"/>
<path d="M568.2 212.3 L577.7 213.5 L577.5 218.4 L575.5 222.9 L566.7 218.5 Z" fill="#fff" stroke="#5a5a5a" stroke-width="0.85" stroke-linejoin="round"/>
<path d="M564.8 222.1 L572.6 228.5 L570.2 232.6 L566.5 235.4 L560.8 226.6 Z" fill="#fff" stroke="#5a5a5a" stroke-width="0.85" stroke-linejoin="round"/>
<path d="M557.6 228.8 L561.5 238.6 L557.5 240.8 L553.1 241.1 L552.1 230.4 Z" fill="#fff" stroke="#5a5a5a" stroke-width="0.85" stroke-linejoin="round"/>
<path d="M548.3 230.4 L547.3 241.1 L542.9 240.8 L538.9 238.6 L542.8 228.8 Z" fill="#fff" stroke="#5a5a5a" stroke-width="0.85" stroke-linejoin="round"/>
<path d="M539.6 226.6 L533.9 235.4 L530.2 232.6 L527.8 228.5 L535.6 222.1 Z" fill="#fff" stroke="#5a5a5a" stroke-width="0.85" stroke-linejoin="round"/>
<path d="M533.7 218.5 L524.9 222.9 L522.9 218.4 L522.7 213.5 L532.2 212.3 Z" fill="#fff" stroke="#5a5a5a" stroke-width="0.85" stroke-linejoin="round"/>
<path d="M532.2 208.1 L522.7 206.9 L522.9 202.0 L524.9 197.5 L533.7 201.9 Z" fill="#fff" stroke="#5a5a5a" stroke-width="0.85" stroke-linejoin="round"/>
<path d="M535.6 198.3 L527.8 191.9 L530.2 187.8 L533.9 185.0 L539.6 193.8 Z" fill="#fff" stroke="#5a5a5a" stroke-width="0.85" stroke-linejoin="round"/>
<path d="M542.8 191.6 L538.9 181.8 L542.9 179.6 L547.3 179.3 L548.3 190.0 Z" fill="#fff" stroke="#5a5a5a" stroke-width="0.85" stroke-linejoin="round"/>
<ellipse cx="550.2" cy="210.2" rx="30.7" ry="34.2" stroke="#555" stroke-width="3.4"/>
<ellipse cx="550.2" cy="210.2" rx="30.7" ry="34.2" stroke="#d8d8d8" stroke-width="1.8" stroke-dasharray="1.6 0.9"/>
<ellipse cx="550.2" cy="210.2" rx="15.2" ry="16.8" fill="#fff" stroke="#555" stroke-width="0.8"/>
<path d="M542.2 202.2 A10.8 11.9 0 0 1 558.2 202.2" stroke="#444" stroke-width="4.2" stroke-linecap="butt"/>
<path d="M542.2 202.2 A10.8 11.9 0 0 1 558.2 202.2" stroke="#b4b4b4" stroke-width="2.3" stroke-linecap="butt"/>
<path d="M560.5 206.5 A10.8 11.9 0 0 1 552.4 221.9" stroke="#444" stroke-width="4.2" stroke-linecap="butt"/>
<path d="M560.5 206.5 A10.8 11.9 0 0 1 552.4 221.9" stroke="#b4b4b4" stroke-width="2.3" stroke-linecap="butt"/>
<path d="M548.0 221.9 A10.8 11.9 0 0 1 539.9 206.5" stroke="#444" stroke-width="4.2" stroke-linecap="butt"/>
<path d="M548.0 221.9 A10.8 11.9 0 0 1 539.9 206.5" stroke="#b4b4b4" stroke-width="2.3" stroke-linecap="butt"/>
<path d="M550.2 210.2 L541.0 204.4" stroke="#444" stroke-width="3.3"/>
<path d="M550.2 210.2 L541.0 204.4" stroke="#b4b4b4" stroke-width="1.6"/>
<path d="M550.2 210.2 L559.4 204.4" stroke="#444" stroke-width="3.3"/>
<path d="M550.2 210.2 L559.4 204.4" stroke="#b4b4b4" stroke-width="1.6"/>
<path d="M550.2 210.2 L550.2 221.9" stroke="#444" stroke-width="3.3"/>
<path d="M550.2 210.2 L550.2 221.9" stroke="#b4b4b4" stroke-width="1.6"/>
<ellipse cx="530.7" cy="173.2" rx="6.6" ry="7.3" fill="#fff" stroke="#8c8c8c" stroke-width="1.7"/>
<ellipse cx="530.7" cy="173.2" rx="4.1" ry="4.6" fill="#fff" stroke="#333" stroke-width="1.1"/>
<ellipse cx="588.6" cy="210.0" rx="6.6" ry="7.3" fill="#fff" stroke="#8c8c8c" stroke-width="1.7"/>
<ellipse cx="588.6" cy="210.0" rx="4.1" ry="4.6" fill="#fff" stroke="#333" stroke-width="1.1"/>
<ellipse cx="529.8" cy="246.2" rx="6.6" ry="7.3" fill="#fff" stroke="#8c8c8c" stroke-width="1.7"/>
<ellipse cx="529.8" cy="246.2" rx="4.1" ry="4.6" fill="#fff" stroke="#333" stroke-width="1.1"/>
<path d="M494.5 245.5 L536 223.5 M502 258.6 L539 224.5" stroke="#3a3a3a" stroke-width="3.8"/>
<path d="M494.5 245.5 L536 223.5 M502 258.6 L539 224.5" stroke="#eeeeee" stroke-width="1.9"/>
<path d="M491.5 242 L505 262 M493.5 244 L503.2 260.2" stroke="#555" stroke-width="0.7"/>
<path d="M502.5 260 V304 M504.4 261 V304" stroke="#777" stroke-width="0.7"/>
<path d="M507 258 H510.3 V292 H507 Z" fill="#c8c8c8" stroke="#777" stroke-width="0.6"/>
<path d="M508.5 270.6 H523 M508.5 278.7 H523 M508.5 286.8 H523" stroke="#666" stroke-width="3"/>
<path d="M508.5 270.6 H523 M508.5 278.7 H523 M508.5 286.8 H523" stroke="#eee" stroke-width="1.4"/>
<path d="M512.4 295.6 A8.3 8.3 0 1 1 505.6 305.2" stroke="#555" stroke-width="4.4" stroke-linecap="butt"/>
<path d="M512.4 295.6 A8.3 8.3 0 1 1 505.6 305.2" stroke="#c4c4c4" stroke-width="2.8" stroke-linecap="butt"/>
<path d="M512.4 295.6 A8.3 8.3 0 1 1 505.6 305.2" stroke="#f4f4f4" stroke-width="0.5"/>
<ellipse cx="537.9" cy="296" rx="11.9" ry="12.5" fill="#fff" stroke="#555" stroke-width="0.8"/>
<ellipse cx="537.9" cy="296" rx="6" ry="6.6" stroke="#444" stroke-width="0.9"/>
<path d="M539.9 271 V283 M542.5 271 V283 M561 272.2 L549.8 289.4 M569.6 268.3 L565 280.8 H588 V257.7 M528 285 L548 285" stroke="#777" stroke-width="0.7"/>
<path d="M596 260 V280" stroke="#888" stroke-width="0.7"/>
<path d="M388.5 255.6 H376.5 Q371.3 255.6 371.3 260.8 V279.9 Q371.3 285.1 376.5 285.1 H388.5" stroke="#111" stroke-width="1.35"/>
<path d="M392.7 246.1 H391 Q388.5 246.1 388.5 249 V291.4 Q388.5 294.3 391 294.3 H392.7" stroke="#111" stroke-width="1.35"/>
<path d="M462.6 231.3 H397.5 Q392.7 231.3 392.7 236 V304.2 Q392.7 308.9 397.5 308.9 H462.6" stroke="#111" stroke-width="1.35"/>
<path d="M376.6 255.6 V285.1 M387.5 255.6 V285.1 M392.1 246 V294.3 M396.7 231.3 V308.9 M396.7 244.8 H462.6 M392.7 247.5 H462.6 M392.7 293.7 H462.6 M396.7 296.3 H462.6" stroke="#777" stroke-width="0.7"/>
<rect x="401.3" y="253" width="56.3" height="34.1" rx="2.5" stroke="#777" stroke-width="0.7"/>
<path d="M401.3 276.2 H457.6" stroke="#777" stroke-width="0.7"/>
<path d="M462.6 231.3 V227 Q462.6 222 467 222 H480.6 M462.6 308.9 V314 Q462.6 319 467 319 H491.6" stroke="#111" stroke-width="1.35"/>
<path d="M462.6 231.3 V308.9" stroke="#111" stroke-width="1"/>
<path d="M480.6 230.1 V311.6" stroke="#222" stroke-width="0.9"/>
<path d="M466 224 V318 M469.6 236.7 V304.2 M477 236.7 V304.2 M469.6 236.7 H477 M469.6 239.7 H477 M469.6 247.7 H477 M469.6 293.2 H477 M469.6 300.6 H477 M469.6 304.2 H477" stroke="#777" stroke-width="0.7"/>
<path d="M480.6 236.7 H489.4 V245.5 H480.6 M480.6 294.7 H489.4 V304.1 H480.6 M480.6 298 H489.4 M480.6 301 H489.4 M491.1 294.6 H502.5 V309.1 H491.1 Z M491.1 304.7 H502.5 M480.6 237.9 H489.4 M480.6 241 H489.4 M509.4 295.3 H516" stroke="#777" stroke-width="0.7"/>
<path d="M470.5 205 H441.1 V182.7 H451.6 V177.8 H473.6 V180.4 H482.9 V207.1 L489 221.2 H492.6 M470.5 205 V211.2 L465.4 222 Q462.3 222 462.3 225 V231.3" stroke="#111" stroke-width="1.35"/>
<path d="M441.1 192.5 H470.5 M441.1 195.6 H470.5 M470.5 191.5 H482.9 M470.5 196.3 H482.9 M470.5 207.3 H482.9 M459.8 177.8 V182.7 M451.6 182.7 H470.5 M470.5 180.4 V211.2 M470 222 V231 M480.6 222 V231" stroke="#777" stroke-width="0.7"/>
<path d="M491.6 318.6 H492.4 V312.5 H495 Q500 313 503.8 315.5 Q508 318.6 512.6 318.4 Q517 318.2 521.4 316.7 L535 311.4 L541.9 309.9 Q547.2 306.6 552.4 298.6 Q555 292 559 288.1 Q562 284.8 567.6 284.8 H590.7 Q594.7 284.8 594.7 282.1 V280.8 L598 280.2 V259.7 L594.7 258.4 V251.1 Q598 243 603.3 230 L605.2 227.4" stroke="#111" stroke-width="1.35"/>
<path d="M492.6 221.2 Q494 195 501.8 180 Q500.3 160 500 150 L498.7 135.7 Q499 120 512.1 119.8 Q517 119.8 519.8 123.3 L550.6 147 Q580 150 596.4 173.5 L624 181.7 Q634.5 185 634.5 196.3 Q634.5 205 626.9 209.2 L605.2 227.4" stroke="#111" stroke-width="1.35"/>
<ellipse cx="512.1" cy="134.6" rx="12.6" ry="13" stroke="#777" stroke-width="0.7"/>
<ellipse cx="512.1" cy="134.6" rx="6.2" ry="6.7" stroke="#777" stroke-width="0.7"/>
<path d="M525 137.2 L540.3 146.4 L526 154 Q522 152 521 148 Z M505.4 149 L515.7 149 L508 168.5 L505.4 160 Z" stroke="#777" stroke-width="0.7"/>
<ellipse cx="621.6" cy="196.3" rx="12.9" ry="14" stroke="#777" stroke-width="0.7"/>
<ellipse cx="621.6" cy="196.3" rx="6.1" ry="6.4" stroke="#777" stroke-width="0.7"/>
<path d="M601 182 L610 184 L607 196 L604 197 Z M604 203 L614 210 L608 217 L605 217 Z" stroke="#777" stroke-width="0.7"/>
</g>
</svg>
<!--/SVG-->
</body></html>
